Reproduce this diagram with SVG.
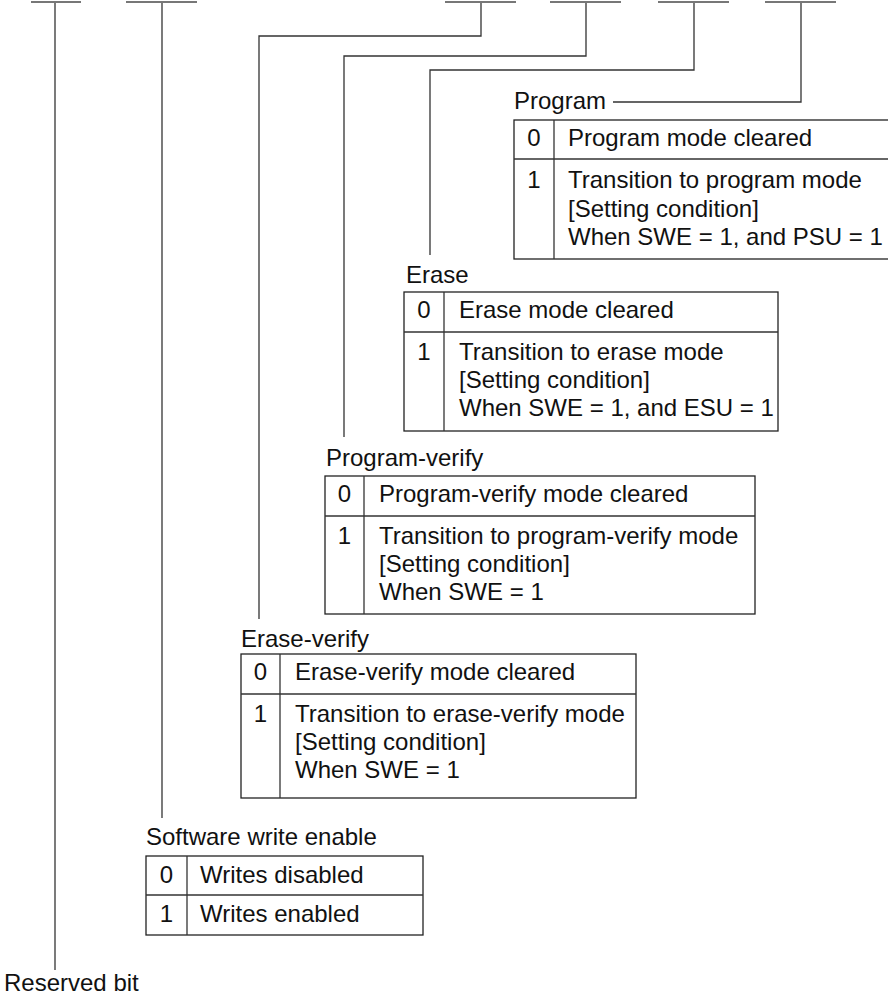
<svg xmlns="http://www.w3.org/2000/svg" width="888" height="998" viewBox="0 0 888 998">
<style>
text{font-family:"Liberation Sans",Arial,sans-serif;font-size:24px;fill:#111}
.bar{stroke:#777;stroke-width:2;fill:none}
.ln{stroke:#333;stroke-width:1.3;fill:none}
.tb{stroke:#222;stroke-width:1.3;fill:#fff}
.d{text-anchor:middle}
</style>
<rect width="888" height="998" fill="#fff"/>
<g id="bits">
<line class="bar" x1="31" y1="2" x2="81" y2="2"/>
<line class="bar" x1="126" y1="2" x2="197" y2="2"/>
<line class="bar" x1="445" y1="2" x2="516" y2="2"/>
<line class="bar" x1="550" y1="2" x2="621" y2="2"/>
<line class="bar" x1="658" y1="2" x2="729" y2="2"/>
<line class="bar" x1="765" y1="2" x2="836" y2="2"/>
</g>
<g id="connectors">
<polyline class="ln" points="55,3 55,970"/>
<polyline class="ln" points="162,3 162,818"/>
<polyline class="ln" points="481,3 481,36 259,36 259,619"/>
<polyline class="ln" points="586,3 586,56 344,56 344,437"/>
<polyline class="ln" points="694,3 694,70 430,70 430,255"/>
<polyline class="ln" points="801,3 801,102 613,102"/>
</g>
<g id="program">
<text x="514" y="109">Program</text>
<rect class="tb" x="514" y="120" width="380" height="139"/>
<line class="ln" x1="514" y1="159" x2="888" y2="159"/>
<line class="ln" x1="554" y1="120" x2="554" y2="259"/>
<text class="d" x="534" y="146">0</text>
<text x="568" y="146">Program mode cleared</text>
<text class="d" x="534" y="188">1</text>
<text x="568" y="188">Transition to program mode</text>
<text x="568" y="216.5">[Setting condition]</text>
<text x="568" y="245">When SWE = 1, and PSU = 1</text>
</g>
<g id="erase">
<text x="406" y="283">Erase</text>
<rect class="tb" x="404" y="292" width="374" height="139"/>
<line class="ln" x1="404" y1="332" x2="778" y2="332"/>
<line class="ln" x1="444" y1="292" x2="444" y2="431"/>
<text class="d" x="424" y="318">0</text>
<text x="459" y="318">Erase mode cleared</text>
<text class="d" x="424" y="360">1</text>
<text x="459" y="360">Transition to erase mode</text>
<text x="459" y="388">[Setting condition]</text>
<text x="459" y="416">When SWE = 1, and ESU = 1</text>
</g>
<g id="program-verify">
<text x="326" y="466">Program-verify</text>
<rect class="tb" x="325" y="476" width="430" height="138"/>
<line class="ln" x1="325" y1="516" x2="755" y2="516"/>
<line class="ln" x1="364" y1="476" x2="364" y2="614"/>
<text class="d" x="344.5" y="502">0</text>
<text x="379" y="502">Program-verify mode cleared</text>
<text class="d" x="344.5" y="544">1</text>
<text x="379" y="544">Transition to program-verify mode</text>
<text x="379" y="572">[Setting condition]</text>
<text x="379" y="600">When SWE = 1</text>
</g>
<g id="erase-verify">
<text x="241" y="647">Erase-verify</text>
<rect class="tb" x="241" y="654" width="395" height="144"/>
<line class="ln" x1="241" y1="694" x2="636" y2="694"/>
<line class="ln" x1="280" y1="654" x2="280" y2="798"/>
<text class="d" x="260.5" y="680">0</text>
<text x="295" y="680">Erase-verify mode cleared</text>
<text class="d" x="260.5" y="722">1</text>
<text x="295" y="722">Transition to erase-verify mode</text>
<text x="295" y="750">[Setting condition]</text>
<text x="295" y="778">When SWE = 1</text>
</g>
<g id="swe">
<text x="146" y="845">Software write enable</text>
<rect class="tb" x="146" y="856" width="277" height="79"/>
<line class="ln" x1="146" y1="895" x2="423" y2="895"/>
<line class="ln" x1="187" y1="856" x2="187" y2="935"/>
<text class="d" x="166.5" y="883">0</text>
<text x="200" y="883">Writes disabled</text>
<text class="d" x="166.5" y="922">1</text>
<text x="200" y="922">Writes enabled</text>
</g>
<g id="reserved">
<text x="4" y="991">Reserved bit</text>
</g>
</svg>
